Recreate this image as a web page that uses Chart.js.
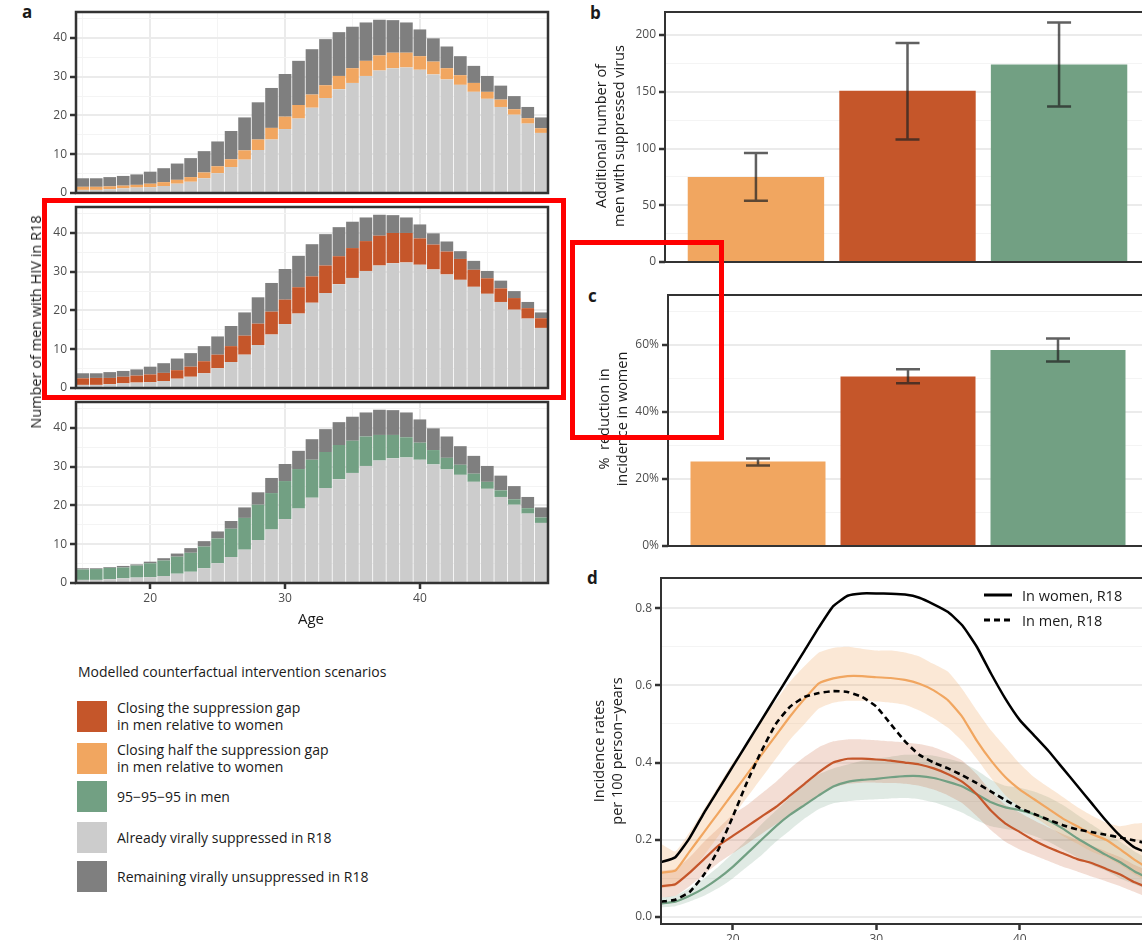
<!DOCTYPE html>
<html>
<head>
<meta charset="utf-8">
<script src="https://cdn.jsdelivr.net/npm/chart.js@4.4.0/dist/chart.umd.min.js"></script>
<style>
html, body { margin: 0; padding: 0; width: 1142px; height: 940px; overflow: hidden; background: #fff; }
body { position: relative; font-family: "Open Sans", sans-serif; color: #1a1a1a; }
canvas { position: absolute; }
.panel { position: absolute; font-weight: bold; font-size: 17px; line-height: 20px; }
.ytitle { position: absolute; font-size: 14.5px; line-height: 18px; text-align: center; white-space: nowrap;
  transform: translate(-50%, -50%) rotate(-90deg); }
.xtitle { position: absolute; font-size: 15px; transform: translate(-50%, -50%); }
.legA { position: absolute; left: 77px; font-size: 14px; line-height: 17px; }
.legA .row { position: absolute; left: 0; display: flex; align-items: center; white-space: nowrap; }
.legA .sw { width: 30px; height: 31px; margin-right: 10px; flex: none; }
.legD { position: absolute; left: 984px; font-size: 14.5px; }
.legD .row { position: absolute; left: 0; display: flex; align-items: center; white-space: nowrap; height: 20px; }
.legD svg { margin-right: 10px; }
.mark { position: absolute; border: 5px solid #ff0000; box-sizing: border-box; z-index: 10; }
</style>
</head>
<body>
<div id="fig"></div>

<div class="panel" style="left:22px; top:2px;">a</div>
<div class="panel" style="left:590px; top:3px;">b</div>
<div class="panel" style="left:588px; top:286px;">c</div>
<div class="panel" style="left:587px; top:568px;">d</div>

<div class="ytitle" style="left:36px; top:322px;">Number of men with HIV in R18</div>
<div class="xtitle" style="left:311px; top:618px;">Age</div>
<div class="ytitle" style="left:610px; top:136px;">Additional number of<br>men with suppressed virus</div>
<div class="ytitle" style="left:613px; top:419px;">%&nbsp; reduction in<br>incidence in women</div>
<div class="ytitle" style="left:608px; top:751px;">Incidence rates<br>per 100 person−years</div>

<div class="legA" style="top:0;">
  <div class="row" style="left:1px; top:663px;">Modelled counterfactual intervention scenarios</div>
  <div class="row" style="top:699px;"><div class="sw" style="background:#C5562A"></div><div>Closing the suppression gap<br>in men relative to women</div></div>
  <div class="row" style="top:741px;"><div class="sw" style="background:#F1A660"></div><div>Closing half the suppression gap<br>in men relative to women</div></div>
  <div class="row" style="top:781px;"><div class="sw" style="background:#72A083"></div><div>95−95−95 in men</div></div>
  <div class="row" style="top:822px;"><div class="sw" style="background:#CCCCCC"></div><div>Already virally suppressed in R18</div></div>
  <div class="row" style="top:861px;"><div class="sw" style="background:#7F7F7F"></div><div>Remaining virally unsuppressed in R18</div></div>
</div>

<div class="legD" style="top:0;">
  <div class="row" style="top:585px;"><svg width="28" height="6"><line x1="0" y1="3" x2="28" y2="3" stroke="#000" stroke-width="3"/></svg>In women, R18</div>
  <div class="row" style="top:610px;"><svg width="28" height="6"><line x1="0" y1="3" x2="28" y2="3" stroke="#000" stroke-width="3" stroke-dasharray="6,4"/></svg>In men, R18</div>
</div>

<div class="mark" style="left:42px; top:198px; width:524px; height:202px;"></div>
<div class="mark" style="left:570px; top:240px; width:154px; height:200px;"></div>

<script>
// Panel a: men with HIV by age, stacked by scenario
const ages = [15, 16, 17, 18, 19, 20, 21, 22, 23, 24, 25, 26, 27, 28, 29, 30, 31, 32,
  33, 34, 35, 36, 37, 38, 39, 40, 41, 42, 43, 44, 45, 46, 47, 48, 49];
const ageTickLabels = [20, 30, 40];

const totalHIV = [3.8, 3.8, 4.1, 4.4, 4.8, 5.5, 6.4, 7.6, 9.0, 10.8, 13.3, 16.0, 19.5, 23.4, 27.1, 30.7, 34.1, 37.1,
  39.7, 41.5, 42.9, 44.0, 44.7, 44.6, 44.0, 42.2, 39.9, 37.8, 35.3, 32.8, 30.2, 27.7, 25.0, 22.2, 19.5];
const suppressed = [0.8, 0.8, 1.0, 1.2, 1.4, 1.5, 1.8, 2.4, 2.9, 3.8, 5.1, 6.7, 8.6, 11.1, 13.8, 16.5, 19.2, 22.0,
  24.5, 26.8, 28.4, 30.2, 31.6, 32.2, 32.4, 31.8, 30.6, 29.3, 27.9, 26.1, 24.3, 22.2, 20.2, 17.9, 15.5];
const halfGapSupp = [1.6, 1.6, 1.7, 1.9, 2.1, 2.4, 2.8, 3.4, 4.1, 5.3, 6.9, 8.7, 11.0, 13.8, 16.8, 19.7, 22.7, 25.4,
  27.8, 30.2, 32.2, 34.1, 35.5, 36.2, 36.2, 35.3, 33.9, 32.2, 30.4, 28.4, 26.1, 24.1, 21.6, 19.3, 16.7];
const fullGapSupp = [2.5, 2.6, 2.6, 2.9, 3.2, 3.5, 3.9, 4.6, 5.5, 6.9, 8.6, 10.8, 13.5, 16.6, 19.7, 22.8, 26.0, 28.8,
  31.6, 34.0, 36.1, 37.9, 39.3, 40.0, 40.0, 38.6, 37.0, 35.2, 33.3, 30.5, 28.3, 25.7, 23.2, 20.6, 18.0];
const target95Supp = [3.5, 3.6, 3.9, 4.0, 4.5, 5.1, 5.8, 6.8, 7.8, 9.4, 11.5, 14.0, 16.8, 20.2, 23.2, 26.3, 29.4, 31.8,
  33.8, 35.6, 36.7, 37.8, 38.2, 38.2, 37.6, 36.2, 34.3, 32.3, 30.5, 28.2, 26.1, 23.9, 21.6, 19.3, 16.9];
const yTicksA = [0, 5, 10, 15, 20, 25, 30, 35, 40, 45];

// Panels b and c: one bar per scenario (half gap, full gap, 95-95-95)
const scenarioPos = [1, 2, 3];
const addSuppressed = [75, 151, 174];
const addSuppressedLo = [54, 108, 137];
const addSuppressedHi = [96, 193, 211];
const yTicksB = [0, 25, 50, 75, 100, 125, 150, 175, 200];
const incReduction = [25.2, 50.5, 58.4];
const incReductionLo = [24.0, 48.5, 55.0];
const incReductionHi = [26.1, 52.7, 61.8];
const yTicksC = [0, 10, 20, 30, 40, 50, 60, 70];

// Panel d: incidence by age
const womenR18 = [0.142, 0.155, 0.205, 0.27, 0.33, 0.39, 0.45, 0.51, 0.57, 0.63, 0.69, 0.75, 0.805, 0.832, 0.838, 0.838,
  0.837, 0.835, 0.827, 0.81, 0.79, 0.755, 0.70, 0.63, 0.565, 0.51, 0.47, 0.43, 0.385, 0.34, 0.295, 0.25, 0.21, 0.18, 0.165];
const menR18 = [0.04, 0.045, 0.065, 0.11, 0.175, 0.26, 0.35, 0.43, 0.50, 0.545, 0.57, 0.58, 0.585, 0.583, 0.57, 0.545,
  0.50, 0.455, 0.42, 0.40, 0.385, 0.367, 0.347, 0.325, 0.303, 0.282, 0.267, 0.252, 0.238, 0.227, 0.22, 0.213, 0.206, 0.198, 0.19];
const halfGapInc = [0.115, 0.12, 0.17, 0.22, 0.27, 0.32, 0.37, 0.42, 0.47, 0.52, 0.565, 0.605, 0.618, 0.624, 0.624, 0.621,
  0.619, 0.614, 0.604, 0.587, 0.561, 0.518, 0.457, 0.405, 0.362, 0.33, 0.305, 0.28, 0.255, 0.235, 0.215, 0.2, 0.175, 0.148, 0.125];
const halfGapLo = [0.075, 0.08, 0.115, 0.16, 0.21, 0.26, 0.31, 0.36, 0.41, 0.46, 0.50, 0.54, 0.555, 0.56, 0.56, 0.558,
  0.555, 0.55, 0.535, 0.515, 0.49, 0.455, 0.41, 0.36, 0.315, 0.285, 0.26, 0.235, 0.21, 0.19, 0.17, 0.155, 0.135, 0.11, 0.09];
const halfGapHi = [0.19, 0.17, 0.22, 0.28, 0.34, 0.40, 0.45, 0.51, 0.56, 0.61, 0.65, 0.685, 0.697, 0.70, 0.695, 0.69,
  0.69, 0.685, 0.675, 0.655, 0.635, 0.59, 0.535, 0.483, 0.44, 0.397, 0.362, 0.336, 0.311, 0.285, 0.263, 0.245, 0.235, 0.242, 0.245];
const fullGapInc = [0.08, 0.085, 0.115, 0.15, 0.185, 0.21, 0.235, 0.26, 0.285, 0.315, 0.345, 0.375, 0.40, 0.41, 0.41, 0.408,
  0.405, 0.40, 0.395, 0.385, 0.37, 0.35, 0.318, 0.275, 0.242, 0.22, 0.198, 0.18, 0.165, 0.15, 0.14, 0.125, 0.11, 0.09, 0.075];
const fullGapLo = [0.05, 0.055, 0.08, 0.11, 0.14, 0.165, 0.19, 0.215, 0.24, 0.265, 0.29, 0.315, 0.335, 0.345, 0.348, 0.348,
  0.347, 0.345, 0.34, 0.33, 0.315, 0.295, 0.262, 0.225, 0.195, 0.175, 0.16, 0.145, 0.13, 0.118, 0.105, 0.093, 0.08, 0.065, 0.05];
const fullGapHi = [0.12, 0.125, 0.155, 0.195, 0.23, 0.265, 0.29, 0.32, 0.35, 0.385, 0.415, 0.44, 0.455, 0.46, 0.46, 0.458,
  0.455, 0.452, 0.448, 0.44, 0.425, 0.405, 0.37, 0.325, 0.29, 0.27, 0.25, 0.232, 0.215, 0.2, 0.185, 0.17, 0.155, 0.135, 0.12];
const target95Inc = [0.035, 0.04, 0.055, 0.075, 0.10, 0.13, 0.165, 0.20, 0.235, 0.265, 0.29, 0.315, 0.338, 0.35, 0.355, 0.358,
  0.362, 0.365, 0.365, 0.36, 0.35, 0.338, 0.318, 0.297, 0.284, 0.277, 0.266, 0.25, 0.229, 0.204, 0.182, 0.161, 0.142, 0.118, 0.1];
const target95Lo = [0.025, 0.028, 0.04, 0.055, 0.075, 0.10, 0.13, 0.16, 0.195, 0.225, 0.255, 0.28, 0.295, 0.30, 0.303, 0.305,
  0.307, 0.308, 0.305, 0.297, 0.285, 0.27, 0.25, 0.235, 0.228, 0.222, 0.21, 0.195, 0.175, 0.155, 0.135, 0.12, 0.1, 0.085, 0.07];
const target95Hi = [0.05, 0.055, 0.075, 0.1, 0.13, 0.165, 0.2, 0.24, 0.275, 0.31, 0.345, 0.37, 0.385, 0.395, 0.405, 0.41,
  0.415, 0.42, 0.42, 0.418, 0.41, 0.4, 0.38, 0.355, 0.34, 0.335, 0.325, 0.31, 0.29, 0.265, 0.24, 0.215, 0.195, 0.17, 0.15];
const yTicksD = [0, 0.1, 0.2, 0.3, 0.4, 0.5, 0.6, 0.7, 0.8];

const ORANGE = '#F1A660', RED = '#C5562A', GREEN = '#72A083', LIGHT = '#CCCCCC', DARK = '#7F7F7F';
const scenarioColors = [ORANGE, RED, GREEN];
const TXT = '#4d4d4d', TICK = '#333333', NONE = 'rgba(0,0,0,0)';
const MAJOR = '#ebebeb', MINOR = '#f4f4f4';
const PAD = { left: 0, top: 4, right: 4, bottom: 8 };
const TICK_FONT = { size: 12 };

Chart.defaults.font.family = '"Open Sans", sans-serif';
Chart.defaults.animation = false;
Chart.defaults.events = [];
Chart.defaults.plugins.legend.display = false;
Chart.defaults.plugins.tooltip.enabled = false;

// force axis sizes so the plot boxes land where the figure has them
const fixWidth = w => s => { s.width = w; s.paddingTop = 0; s.paddingBottom = 0; };
const fixHeight = h => s => { s.height = h; s.paddingLeft = 0; s.paddingRight = 0; };
const setTicks = vals => s => { s.ticks = vals.map(v => ({ value: v })); };

function place(plot, yW, xH) {
    const c = document.createElement('canvas');
    const w = plot.r - plot.l + yW + PAD.right;
    const h = plot.b - plot.t + PAD.top + xH + PAD.bottom;
    c.width = w; c.height = h;
    c.style.left = (plot.l - yW) + 'px';
    c.style.top = (plot.t - PAD.top) + 'px';
    c.style.width = w + 'px';
    c.style.height = h + 'px';
    document.getElementById('fig').appendChild(c);
    return c;
}

function panelBox(width) {
    return {
        id: 'panelBox',
        afterDraw(chart) {
            const a = chart.chartArea, ctx = chart.ctx;
            ctx.save();
            ctx.strokeStyle = TICK;
            ctx.lineWidth = width;
            ctx.strokeRect(a.left, a.top, a.right - a.left, a.bottom - a.top);
            ctx.restore();
        }
    };
}

function errorBars(lo, hi) {
    return {
        id: 'errorBars',
        afterDatasetsDraw(chart) {
            const xs = chart.scales.x, ys = chart.scales.y, ctx = chart.ctx;
            ctx.save();
            ctx.strokeStyle = 'rgba(35,35,35,0.72)';
            ctx.lineWidth = 2.5;
            scenarioPos.forEach((p, i) => {
                const px = xs.getPixelForValue(p);
                const y0 = ys.getPixelForValue(lo[i]);
                const y1 = ys.getPixelForValue(hi[i]);
                ctx.beginPath();
                ctx.moveTo(px, y0); ctx.lineTo(px, y1);
                ctx.moveTo(px - 12, y0); ctx.lineTo(px + 12, y0);
                ctx.moveTo(px - 12, y1); ctx.lineTo(px + 12, y1);
                ctx.stroke();
            });
            ctx.restore();
        }
    };
}

function valueAxis(min, max, ticks, isMajor, label, yW) {
    return {
        min: min, max: max,
        afterBuildTicks: setTicks(ticks),
        border: { display: false },
        grid: {
            color: ctx => isMajor(ctx.tick.value) ? MAJOR : MINOR,
            lineWidth: ctx => isMajor(ctx.tick.value) ? 2 : 1,
            tickLength: 6,
            tickColor: ctx => isMajor(ctx.tick.value) ? TICK : NONE,
            tickWidth: 2.5
        },
        ticks: {
            padding: 3, color: TXT, font: TICK_FONT,
            callback: v => isMajor(v) ? label(v) : ''
        },
        afterFit: fixWidth(yW)
    };
}

function ageBarChart(plot, scen, color, showX) {
    const incr = scen.map((v, i) => +(v - suppressed[i]).toFixed(2));
    const rest = totalHIV.map((v, i) => +(v - scen[i]).toFixed(2));
    const xH = showX ? 22 : 0;
    return new Chart(place(plot, 40, xH), {
        type: 'bar',
        data: {
            labels: ages,
            datasets: [
                { data: suppressed, backgroundColor: LIGHT },
                { data: incr, backgroundColor: color },
                { data: rest, backgroundColor: DARK }
            ]
        },
        options: {
            responsive: false,
            layout: { padding: PAD },
            datasets: { bar: { barPercentage: 0.94, categoryPercentage: 1, borderWidth: 0 } },
            scales: {
                x: {
                    stacked: true,
                    offset: true,
                    border: { display: false },
                    grid: {
                        offset: false,
                        color: ctx => ages[ctx.index] % 10 === 0 ? MAJOR : (ages[ctx.index] % 5 === 0 ? MINOR : NONE),
                        lineWidth: ctx => ages[ctx.index] % 10 === 0 ? 2 : 1,
                        drawTicks: showX,
                        tickLength: 6,
                        tickColor: ctx => ages[ctx.index] % 10 === 0 ? TICK : NONE,
                        tickWidth: 2.5
                    },
                    ticks: {
                        display: showX, autoSkip: false, maxRotation: 0, padding: 2,
                        color: TXT, font: TICK_FONT,
                        callback: (v, i) => ageTickLabels.includes(ages[i]) ? String(ages[i]) : ''
                    },
                    afterFit: fixHeight(xH)
                },
                y: Object.assign({ stacked: true },
                    valueAxis(0, 46.7, yTicksA, v => v % 10 === 0, v => String(v), 41))
            }
        },
        plugins: [panelBox(2.5)]
    });
}

ageBarChart({ l: 75, r: 548, t: 12, b: 193 }, halfGapSupp, ORANGE, false);
ageBarChart({ l: 75, r: 548, t: 207, b: 388 }, fullGapSupp, RED, false);
ageBarChart({ l: 75, r: 548, t: 402, b: 583 }, target95Supp, GREEN, true);

function scenarioBarChart(plot, values, lo, hi, ymax, ticks, isMajor, label) {
    return new Chart(place(plot, 46, 0), {
        type: 'bar',
        data: {
            datasets: [{
                data: scenarioPos.map((x, i) => ({ x: x, y: values[i] })),
                backgroundColor: scenarioColors,
                barPercentage: 0.9,
                categoryPercentage: 1,
                borderWidth: 0
            }]
        },
        options: {
            responsive: false,
            layout: { padding: PAD },
            scales: {
                x: {
                    type: 'linear', min: 0.4, max: 3.6, offset: false,
                    afterBuildTicks: setTicks(scenarioPos),
                    border: { display: false },
                    grid: { display: false, drawTicks: false },
                    ticks: { display: false },
                    afterFit: fixHeight(0)
                },
                y: valueAxis(0, ymax, ticks, isMajor, label, 46)
            }
        },
        plugins: [errorBars(lo, hi), panelBox(2)]
    });
}

scenarioBarChart({ l: 665, r: 1150, t: 12, b: 262 }, addSuppressed, addSuppressedLo, addSuppressedHi,
    220.3, yTicksB, v => v % 50 === 0, v => String(v));
scenarioBarChart({ l: 668, r: 1148, t: 295, b: 546 }, incReduction, incReductionLo, incReductionHi,
    74.8, yTicksC, v => v % 20 === 0, v => v + '%');

// Panel d
const pts = arr => ages.map((a, i) => ({ x: a, y: arr[i] }));
const lineDs = (arr, color, dash, width) => ({
    data: pts(arr), borderColor: color, borderWidth: width || 2.2, borderDash: dash || [],
    pointRadius: 0, fill: false, tension: 0.15
});
const bandDs = (arr, fillColor, fill) => ({
    data: pts(arr), borderWidth: 0, borderColor: NONE, backgroundColor: fillColor,
    pointRadius: 0, fill: fill, tension: 0.15
});

new Chart(place({ l: 661, r: 1149, t: 578, b: 924 }, 42, 22), {
    type: 'line',
    data: {
        datasets: [
            lineDs(womenR18, '#000000', null, 2.5),
            lineDs(menR18, '#000000', [6, 4], 2.6),
            lineDs(halfGapInc, ORANGE),
            lineDs(fullGapInc, RED),
            lineDs(target95Inc, GREEN),
            bandDs(halfGapHi, 'rgba(241,166,96,0.26)', '+1'),
            bandDs(halfGapLo, NONE, false),
            bandDs(fullGapHi, 'rgba(197,86,42,0.20)', '+1'),
            bandDs(fullGapLo, NONE, false),
            bandDs(target95Hi, 'rgba(114,160,131,0.22)', '+1'),
            bandDs(target95Lo, NONE, false)
        ]
    },
    options: {
        responsive: false,
        layout: { padding: PAD },
        scales: {
            x: {
                type: 'linear', min: 15, max: 49,
                afterBuildTicks: setTicks(ageTickLabels),
                border: { display: false },
                grid: { drawOnChartArea: false, tickLength: 6, tickColor: TICK, tickWidth: 2.5 },
                ticks: { padding: 2, color: TXT, font: TICK_FONT, callback: v => String(v) },
                afterFit: fixHeight(22)
            },
            y: valueAxis(-0.018, 0.878, yTicksD, v => Math.round(v * 10) % 2 === 0, v => v.toFixed(1), 42)
        }
    },
    plugins: [panelBox(2)]
});
</script>
</body>
</html>
